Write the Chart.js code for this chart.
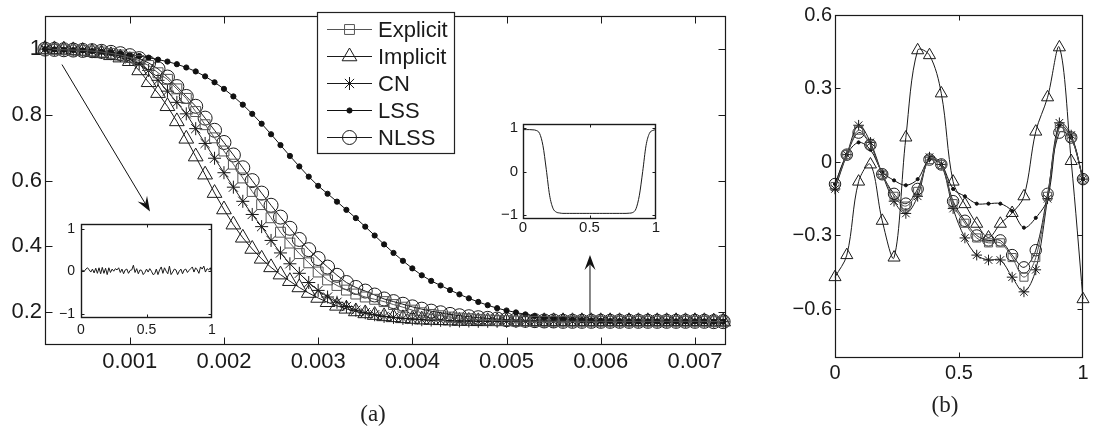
<!DOCTYPE html>
<html><head><meta charset="utf-8">
<script src="https://cdn.jsdelivr.net/npm/chart.js"></script>
<style>
html,body{margin:0;padding:0;background:#fff;}
#wrap{position:relative;width:1103px;height:433px;overflow:hidden;background:#fff;}
canvas{position:absolute;}
.cap{position:absolute;width:60px;text-align:center;font-family:"Liberation Serif","DejaVu Serif",serif;font-size:23px;line-height:26px;color:#222;}
</style></head><body>
<div id="wrap">
<canvas id="ca" width="780" height="433" style="left:0;top:0;width:780px;height:433px"></canvas>
<canvas id="cl" width="175" height="140" style="left:50px;top:210px;width:175px;height:140px"></canvas>
<canvas id="cr" width="180" height="140" style="left:490px;top:110px;width:180px;height:140px"></canvas>
<canvas id="cb" width="323" height="433" style="left:780px;top:0;width:323px;height:433px"></canvas>
<div class="cap" style="left:343px;top:401px">(a)</div>
<div class="cap" style="left:915px;top:392px">(b)</div>
</div>
<script>
// ---------------- DATA: panel (a) ----------------
const aTime = [0.0001,0.0002,0.0003,0.0004,0.0005,0.0006,0.0007,0.0008,0.0009,0.0010,
0.0011,0.0012,0.0013,0.0014,0.0015,0.0016,0.0017,0.0018,0.0019,0.0020,
0.0021,0.0022,0.0023,0.0024,0.0025,0.0026,0.0027,0.0028,0.0029,0.0030,
0.0031,0.0032,0.0033,0.0034,0.0035,0.0036,0.0037,0.0038,0.0039,0.0040,
0.0041,0.0042,0.0043,0.0044,0.0045,0.0046,0.0047,0.0048,0.0049,0.0050,
0.0051,0.0052,0.0053,0.0054,0.0055,0.0056,0.0057,0.0058,0.0059,0.0060,
0.0061,0.0062,0.0063,0.0064,0.0065,0.0066,0.0067,0.0068,0.0069,0.0070,
0.0071,0.0072,0.0073];
const aExplicit = [1.000,0.999,0.998,0.997,0.996,0.994,0.991,0.987,0.982,0.975,
0.965,0.950,0.928,0.908,0.879,0.850,0.810,0.770,0.730,0.690,
0.650,0.608,0.567,0.527,0.487,0.443,0.410,0.378,0.350,0.322,
0.298,0.281,0.267,0.255,0.246,0.239,0.232,0.223,0.215,0.206,
0.198,0.193,0.189,0.185,0.182,0.180,0.178,0.176,0.175,0.174,
0.173,0.173,0.172,0.172,0.172,0.172,0.172,0.172,0.172,0.172,
0.172,0.172,0.172,0.172,0.172,0.172,0.172,0.172,0.172,0.172,
0.172,0.171,0.171];
const aImplicit = [1.000,0.999,0.998,0.996,0.994,0.991,0.987,0.981,0.974,0.963,
0.935,0.899,0.866,0.826,0.780,0.727,0.673,0.618,0.562,0.512,
0.466,0.426,0.392,0.362,0.336,0.314,0.294,0.275,0.258,0.243,
0.230,0.219,0.210,0.202,0.196,0.191,0.187,0.184,0.181,0.179,
0.177,0.176,0.175,0.174,0.173,0.173,0.172,0.172,0.172,0.172,
0.172,0.172,0.172,0.172,0.172,0.172,0.172,0.172,0.172,0.172,
0.172,0.172,0.172,0.172,0.172,0.172,0.172,0.172,0.172,0.172,
0.172,0.171,0.171];
const aCN = [1.000,0.999,0.998,0.997,0.995,0.993,0.990,0.986,0.980,0.970,
0.955,0.935,0.905,0.872,0.838,0.803,0.758,0.713,0.668,0.624,
0.580,0.537,0.497,0.460,0.418,0.380,0.347,0.318,0.290,0.266,
0.246,0.230,0.217,0.206,0.198,0.192,0.187,0.184,0.181,0.179,
0.177,0.176,0.175,0.174,0.173,0.173,0.172,0.172,0.172,0.172,
0.172,0.172,0.172,0.172,0.172,0.172,0.172,0.172,0.172,0.172,
0.172,0.172,0.172,0.172,0.172,0.172,0.172,0.172,0.172,0.172,
0.172,0.171,0.171];
const aLSS = [1.000,0.999,0.998,0.997,0.996,0.994,0.992,0.990,0.987,0.983,
0.979,0.974,0.968,0.962,0.954,0.944,0.932,0.917,0.899,0.879,
0.856,0.831,0.803,0.773,0.741,0.708,0.675,0.643,0.612,0.584,
0.560,0.536,0.511,0.486,0.460,0.433,0.406,0.380,0.356,0.333,
0.312,0.295,0.281,0.267,0.254,0.242,0.231,0.221,0.212,0.205,
0.199,0.193,0.188,0.184,0.181,0.179,0.177,0.176,0.175,0.174,
0.173,0.173,0.172,0.172,0.172,0.172,0.172,0.172,0.172,0.172,
0.172,0.171,0.171];
const aNLSS = [1.000,0.999,0.998,0.997,0.996,0.995,0.993,0.990,0.986,0.980,
0.971,0.958,0.940,0.915,0.886,0.856,0.826,0.790,0.753,0.716,
0.678,0.639,0.600,0.562,0.525,0.489,0.455,0.421,0.390,0.363,
0.337,0.312,0.290,0.275,0.264,0.252,0.240,0.232,0.224,0.216,
0.209,0.203,0.198,0.193,0.189,0.186,0.183,0.181,0.179,0.177,
0.176,0.175,0.174,0.173,0.173,0.172,0.172,0.172,0.172,0.172,
0.172,0.172,0.172,0.172,0.172,0.172,0.172,0.172,0.172,0.172,
0.172,0.171,0.171];
const aXTicks = [0.001,0.002,0.003,0.004,0.005,0.006,0.007];
const aXTickLabels = ['0.001','0.002','0.003','0.004','0.005','0.006','0.007'];
const aYTicks = [0.2,0.4,0.6,0.8,1];
const aYTickLabels = ['0.2','0.4','0.6','0.8','1'];
const seriesNames = ['Explicit','Implicit','CN','LSS','NLSS'];
// arrows (data coordinates of panel a)
const arrowFrom = [[0.00028,0.953],[0.005886,0.194]];
const arrowTo   = [[0.001215,0.506],[0.005886,0.374]];

// ---------------- DATA: insets ----------------
const insetXTicks = [0,0.5,1];
const insetXTickLabels = ['0','0.5','1'];
const insetYTicks = [-1,0,1];
const insetYTickLabels = ['\u22121','0','1'];
const leftInsetX = [0,0.0125,0.025,0.0375,0.05,0.0625,0.075,0.0875,0.1,0.1125,
0.125,0.1375,0.15,0.1625,0.175,0.1875,0.2,0.2125,0.225,0.2375,
0.25,0.2625,0.275,0.2875,0.3,0.3125,0.325,0.3375,0.35,0.3625,
0.375,0.3875,0.4,0.4125,0.425,0.4375,0.45,0.4625,0.475,0.4875,
0.5,0.5125,0.525,0.5375,0.55,0.5625,0.575,0.5875,0.6,0.6125,
0.625,0.6375,0.65,0.6625,0.675,0.6875,0.7,0.7125,0.725,0.7375,
0.75,0.7625,0.775,0.7875,0.8,0.8125,0.825,0.8375,0.85,0.8625,
0.875,0.8875,0.9,0.9125,0.925,0.9375,0.95,0.9625,0.975,0.9875,1];
const leftInsetY = [0,0.02,0.0,0.05,0.08,0.03,-0.02,0.05,-0.04,0.07,
-0.05,0.08,-0.06,0.09,-0.05,0.07,-0.08,0.08,-0.03,0.05,
0.0,0.06,0.03,0.08,-0.03,0.05,-0.06,0.03,0.05,-0.05,
0.02,0.03,0.14,-0.03,0.06,-0.06,0.03,0.02,-0.08,-0.03,
0.05,-0.02,0.06,0.0,-0.08,-0.06,0.05,-0.08,0.03,0.1,
-0.05,0.08,0.0,-0.06,0.12,-0.08,-0.02,0.05,0.03,-0.08,
0.0,0.05,-0.06,0.03,0.05,-0.03,0.02,0.06,0.1,-0.02,
0.08,0.03,-0.05,0.1,0.05,0.12,-0.02,0.06,0.03,0.08,-0.06];
const rightInsetX = [0,0.025,0.05,0.075,0.1,0.125,0.15,0.175,0.2,0.225,
0.25,0.275,0.3,0.325,0.35,0.375,0.4,0.425,0.45,0.475,
0.5,0.525,0.55,0.575,0.6,0.625,0.65,0.675,0.7,0.725,
0.75,0.775,0.8,0.825,0.85,0.875,0.9,0.925,0.95,0.975,1];
const rightInsetY = [0.97,0.97,0.97,0.965,0.95,0.88,0.6,0.05,-0.55,-0.85,
-0.94,-0.96,-0.97,-0.97,-0.97,-0.97,-0.97,-0.97,-0.97,-0.97,
-0.97,-0.97,-0.97,-0.97,-0.97,-0.97,-0.97,-0.97,-0.97,-0.97,
-0.97,-0.97,-0.965,-0.95,-0.86,-0.55,0.0,0.6,0.88,0.95,0.97];

// ---------------- DATA: panel (b) ----------------
const bX = [0,0.0476,0.0952,0.1429,0.1905,0.2381,0.2857,0.3333,0.381,0.4286,0.4762,
0.5238,0.5714,0.619,0.6667,0.7143,0.7619,0.8095,0.8571,0.9048,0.9524,1];
const bExplicit = [-0.10,0.03,0.13,0.07,-0.05,-0.14,-0.18,-0.12,0.01,-0.01,-0.17,-0.25,-0.31,-0.33,-0.33,-0.39,-0.47,-0.39,-0.14,0.14,0.10,-0.07];
const bImplicit = [-0.47,-0.38,-0.08,-0.01,-0.24,-0.39,0.10,0.456,0.436,0.28,-0.08,-0.172,-0.252,-0.308,-0.252,-0.208,-0.14,0.124,0.264,0.468,0.004,-0.56];
const bCN = [-0.11,0.03,0.15,0.08,-0.05,-0.16,-0.21,-0.14,0.02,-0.01,-0.19,-0.31,-0.38,-0.40,-0.40,-0.47,-0.53,-0.44,-0.15,0.16,0.11,-0.07];
const bLSS = [-0.09,0.03,0.08,0.05,-0.04,-0.075,-0.095,-0.07,0.01,-0.01,-0.11,-0.14,-0.17,-0.17,-0.17,-0.20,-0.268,-0.228,-0.15,0.15,0.10,-0.07];
const bNLSS = [-0.09,0.03,0.12,0.07,-0.05,-0.13,-0.17,-0.11,0.01,-0.01,-0.16,-0.24,-0.30,-0.32,-0.32,-0.38,-0.43,-0.36,-0.13,0.12,0.10,-0.07];
const bXTicks = [0,0.5,1];
const bXTickLabels = ['0','0.5','1'];
const bYTicks = [-0.6,-0.3,0,0.3,0.6];
const bYTickLabels = ['\u22120.6','\u22120.3','0','0.3','0.6'];

// ---------------- STYLE ----------------
const SANS = '"Liberation Sans", Arial, Helvetica, sans-serif';
const styles = {
  Explicit: {ps:'rect', r:7, color:'#555', fill:false},
  Implicit: {ps:'triangle', r:8.5, color:'#1a1a1a', fill:false},
  CN:       {ps:'star', r:6.5, color:'#1a1a1a', fill:false},
  LSS:      {ps:'circle', r:2.6, color:'#111', fill:true},
  NLSS:     {ps:'circle', r:7, color:'#1a1a1a', fill:false}
};

const boxPlugin = {
  id: 'mbox',
  beforeDatasetsDraw(chart, args, o) {
    if (!o || !o.fill) return;
    const a = chart.chartArea, ctx = chart.ctx;
    ctx.save(); ctx.fillStyle = o.fill;
    ctx.fillRect(a.left, a.top, a.right - a.left, a.bottom - a.top);
    ctx.restore();
  },
  afterDraw(chart, args, o) {
    if (!o || !o.len) return;
    const a = chart.chartArea, ctx = chart.ctx, sx = chart.scales.x, sy = chart.scales.y;
    ctx.save();
    ctx.strokeStyle = o.color || '#111'; ctx.lineWidth = o.lw || 1;
    const L = Math.round(a.left) + 0.5, R = Math.round(a.right) - 0.5, T = Math.round(a.top) + 0.5, B = Math.round(a.bottom) - 0.5;
    ctx.strokeRect(L, T, R - L, B - T);
    ctx.lineWidth = 1;
    ctx.beginPath();
    sx.ticks.forEach(t => {
      const p = Math.round(sx.getPixelForValue(t.value)) + 0.5;
      if (p <= L + 1 || p >= R - 1) return;
      ctx.moveTo(p, B); ctx.lineTo(p, B - o.len);
      ctx.moveTo(p, T); ctx.lineTo(p, T + o.len);
    });
    sy.ticks.forEach(t => {
      const p = Math.round(sy.getPixelForValue(t.value)) + 0.5;
      if (p <= T + 1 || p >= B - 1) return;
      ctx.moveTo(L, p); ctx.lineTo(L + o.len, p);
      ctx.moveTo(R, p); ctx.lineTo(R - o.len, p);
    });
    ctx.stroke();
    ctx.restore();
  }
};

const annotPlugin = {
  id: 'annot',
  afterDraw(chart, args, o) {
    if (!o || !o.on) return;
    const ctx = chart.ctx, sx = chart.scales.x, sy = chart.scales.y;
    ctx.save();
    ctx.strokeStyle = '#111'; ctx.fillStyle = '#111'; ctx.lineWidth = 1;
    for (let i = 0; i < arrowFrom.length; i++) {
      const x1 = sx.getPixelForValue(arrowFrom[i][0]), y1 = sy.getPixelForValue(arrowFrom[i][1]);
      const x2 = sx.getPixelForValue(arrowTo[i][0]), y2 = sy.getPixelForValue(arrowTo[i][1]);
      const ang = Math.atan2(y2 - y1, x2 - x1), Lh = 15, W = 5.5;
      const c = Math.cos(ang), s = Math.sin(ang);
      ctx.beginPath(); ctx.moveTo(x1, y1); ctx.lineTo(x2 - 8 * c, y2 - 8 * s); ctx.stroke();
      const bx = x2 - Lh * c, by = y2 - Lh * s, nx = -s, ny = c;
      const mx = x2 - 0.62 * Lh * c, my = y2 - 0.62 * Lh * s;
      ctx.beginPath(); ctx.moveTo(x2, y2); ctx.lineTo(bx + W * nx, by + W * ny);
      ctx.lineTo(mx, my); ctx.lineTo(bx - W * nx, by - W * ny); ctx.closePath(); ctx.fill();
    }
    // legend
    const lx = 317.5, ly = 12.5, lw = 137, lh = 141;
    ctx.fillStyle = '#fff'; ctx.fillRect(lx, ly, lw, lh);
    ctx.strokeStyle = '#222'; ctx.lineWidth = 1.2; ctx.strokeRect(lx, ly, lw, lh);
    seriesNames.forEach((n, i) => {
      const st = styles[n], yy = 29.5 + i * 27;
      ctx.strokeStyle = st.color; ctx.lineWidth = 1;
      ctx.beginPath(); ctx.moveTo(327, yy); ctx.lineTo(372, yy); ctx.stroke();
      ctx.fillStyle = st.fill ? st.color : 'rgba(0,0,0,0)';
      Chart.helpers.drawPoint(ctx, {pointStyle: st.ps, radius: st.r, rotation: 0, borderWidth: 1}, 349.5, yy);
      ctx.fillStyle = '#1a1a1a'; ctx.font = '22px ' + SANS;
      ctx.textAlign = 'left'; ctx.textBaseline = 'middle';
      ctx.fillText(n, 378, yy + 1);
    });
    ctx.restore();
  }
};
Chart.register(boxPlugin, annotPlugin);

function fixedAxis(min, max, vals, labels, size, pad, fitKey, fitVal) {
  return {
    type: 'linear', min: min, max: max,
    afterBuildTicks: s => { s.ticks = vals.map(v => ({value: v})); },
    afterFit: s => { s[fitKey] = fitVal; },
    ticks: {autoSkip: false, maxRotation: 0, minRotation: 0, padding: pad, color: '#1a1a1a',
      font: {family: SANS, size: size}, callback: (v, i) => labels[i]},
    grid: {display: false, drawTicks: false},
    border: {display: false}
  };
}
function commonOpts(padding, scales, plugins) {
  return {
    responsive: false, animation: false, devicePixelRatio: 1, events: [],
    layout: {padding: padding},
    scales: scales,
    plugins: Object.assign({legend: {display: false}, tooltip: {enabled: false}, title: {display: false}}, plugins)
  };
}
function seriesDs(name, xs, ys, scale, tension) {
  const st = styles[name];
  return {
    label: name,
    data: xs.map((x, i) => ({x: x, y: ys[i]})),
    borderColor: st.color, borderWidth: 1,
    pointStyle: st.ps, pointRadius: st.r * scale, pointHoverRadius: st.r * scale,
    pointBorderColor: st.color, pointBorderWidth: 1,
    pointBackgroundColor: st.fill ? st.color : 'rgba(0,0,0,0)',
    backgroundColor: 'rgba(0,0,0,0)', fill: false,
    tension: tension, clip: false
  };
}

// ---------------- Panel (a) ----------------
const aSeries = {Explicit: aExplicit, Implicit: aImplicit, CN: aCN, LSS: aLSS, NLSS: aNLSS};
new Chart(document.getElementById('ca'), {
  type: 'line',
  data: {datasets: seriesNames.map(n => seriesDs(n, aTime, aSeries[n], 1, 0))},
  options: commonOpts({left: 0, top: 5, right: 54, bottom: 48}, {
    x: fixedAxis(0.0001, 0.00733, aXTicks, aXTickLabels, 22, 4, 'height', 40),
    y: fixedAxis(0.1, 1.1, aYTicks, aYTickLabels, 22, 3, 'width', 45)
  }, {mbox: {len: 7, lw: 1.2, color: '#1a1a1a'}, annot: {on: true}})
});

// ---------------- Insets ----------------
function inset(id, xs, ys, pad, yw, fontSize, xpad, ypad, tension) {
  new Chart(document.getElementById(id), {
    type: 'line',
    data: {datasets: [{data: xs.map((x, i) => ({x: x, y: ys[i]})), borderColor: '#1a1a1a', borderWidth: 1,
      pointRadius: 0, tension: tension, cubicInterpolationMode: tension ? 'monotone' : 'default', fill: false}]},
    options: commonOpts(pad, {
      x: fixedAxis(0, 1, insetXTicks, insetXTickLabels, fontSize, xpad, 'height', 22),
      y: fixedAxis(-1.1, 1.1, insetYTicks, insetYTickLabels, fontSize, ypad, 'width', yw)
    }, {mbox: {len: 3, lw: 1.4, color: '#1a1a1a', fill: '#fff'}, annot: {on: false}})
  });
}
inset('cl', leftInsetX, leftInsetY, {left: 0, top: 10, right: 13, bottom: 10}, 31, 14, 4, 6, 0);
inset('cr', rightInsetX, rightInsetY, {left: 0, top: 11, right: 14, bottom: 9}, 33, 15, 0, 5, 0.3);

// ---------------- Panel (b) ----------------
const bSeries = {Explicit: bExplicit, Implicit: bImplicit, CN: bCN, LSS: bLSS, NLSS: bNLSS};
new Chart(document.getElementById('cb'), {
  type: 'line',
  data: {datasets: seriesNames.map(n => seriesDs(n, bX, bSeries[n], n === 'LSS' ? 0.6 : 0.82, 0.35))},
  options: commonOpts({left: 0, top: 10, right: 20, bottom: 45}, {
    x: fixedAxis(0, 1, bXTicks, bXTickLabels, 20, 3, 'height', 30),
    y: fixedAxis(-0.8, 0.6, bYTicks, bYTickLabels, 20, 3, 'width', 55)
  }, {mbox: {len: 5, lw: 1.2, color: '#1a1a1a'}, annot: {on: false}})
});
</script>
</body></html>
